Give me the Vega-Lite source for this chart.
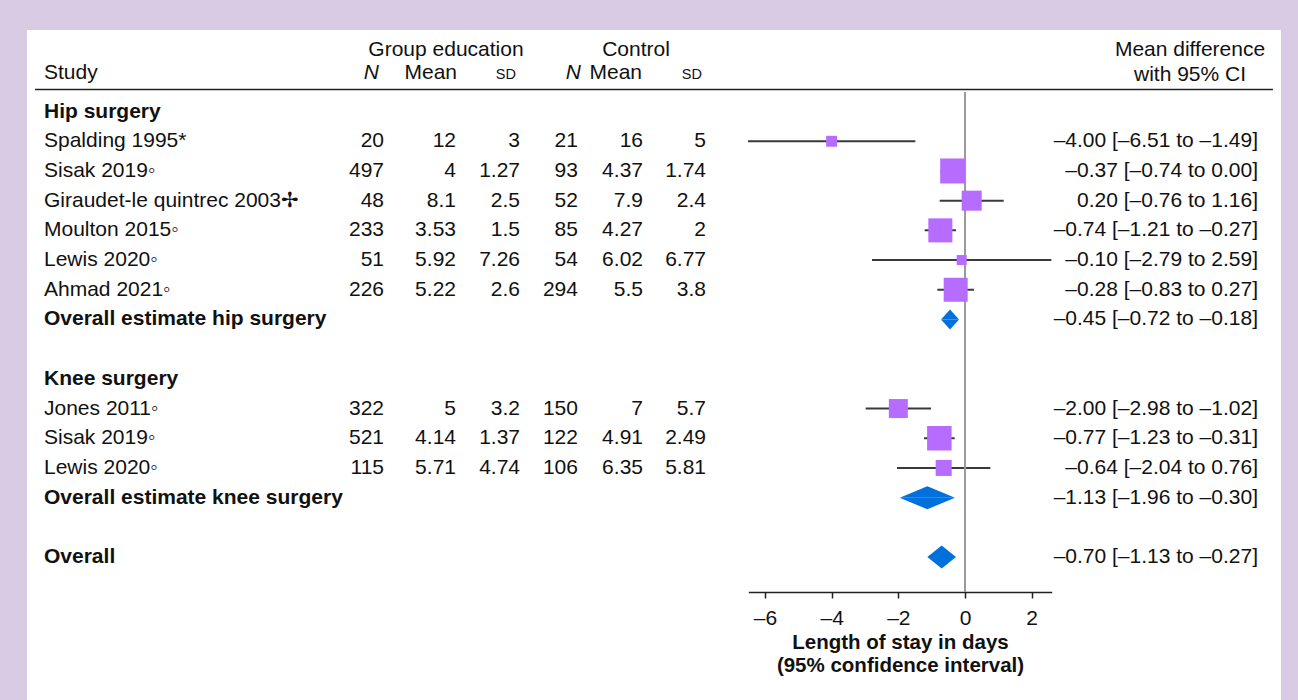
{
  "$schema": "https://vega.github.io/schema/vega-lite/v6.json",
  "width": 1254,
  "height": 670,
  "autosize": {"type": "none"},
  "padding": {"left": 27, "top": 30, "right": 17, "bottom": 0},
  "background": "#d9cbe3",
  "config": {
    "view": {"fill": "#ffffff", "stroke": null},
    "text": {"font": "Liberation Sans", "fontSize": 21, "color": "#111111", "baseline": "middle"}
  },
  "datasets": {
    "studies": [
      {"row": 1, "label": "Spalding 1995*", "n1": 20, "m1": 12, "sd1": 3, "n2": 21, "m2": 16, "sd2": 5, "est": -4.0, "lower": -6.51, "upper": -1.49, "weight": 5, "ci": "–4.00 [–6.51 to –1.49]"},
      {"row": 2, "label": "Sisak 2019◦", "n1": 497, "m1": 4, "sd1": 1.27, "n2": 93, "m2": 4.37, "sd2": 1.74, "est": -0.37, "lower": -0.74, "upper": 0.0, "weight": 26, "ci": "–0.37 [–0.74 to 0.00]"},
      {"row": 3, "label": "Giraudet-le quintrec 2003✢", "n1": 48, "m1": 8.1, "sd1": 2.5, "n2": 52, "m2": 7.9, "sd2": 2.4, "est": 0.2, "lower": -0.76, "upper": 1.16, "weight": 16.7, "ci": "0.20 [–0.76 to 1.16]"},
      {"row": 4, "label": "Moulton 2015◦", "n1": 233, "m1": 3.53, "sd1": 1.5, "n2": 85, "m2": 4.27, "sd2": 2, "est": -0.74, "lower": -1.21, "upper": -0.27, "weight": 24, "ci": "–0.74 [–1.21 to –0.27]"},
      {"row": 5, "label": "Lewis 2020◦", "n1": 51, "m1": 5.92, "sd1": 7.26, "n2": 54, "m2": 6.02, "sd2": 6.77, "est": -0.1, "lower": -2.79, "upper": 2.59, "weight": 4.2, "ci": "–0.10 [–2.79 to 2.59]"},
      {"row": 6, "label": "Ahmad 2021◦", "n1": 226, "m1": 5.22, "sd1": 2.6, "n2": 294, "m2": 5.5, "sd2": 3.8, "est": -0.28, "lower": -0.83, "upper": 0.27, "weight": 24, "ci": "–0.28 [–0.83 to 0.27]"},
      {"row": 10, "label": "Jones 2011◦", "n1": 322, "m1": 5, "sd1": 3.2, "n2": 150, "m2": 7, "sd2": 5.7, "est": -2.0, "lower": -2.98, "upper": -1.02, "weight": 15, "ci": "–2.00 [–2.98 to –1.02]"},
      {"row": 11, "label": "Sisak 2019◦", "n1": 521, "m1": 4.14, "sd1": 1.37, "n2": 122, "m2": 4.91, "sd2": 2.49, "est": -0.77, "lower": -1.23, "upper": -0.31, "weight": 25, "ci": "–0.77 [–1.23 to –0.31]"},
      {"row": 12, "label": "Lewis 2020◦", "n1": 115, "m1": 5.71, "sd1": 4.74, "n2": 106, "m2": 6.35, "sd2": 5.81, "est": -0.64, "lower": -2.04, "upper": 0.76, "weight": 10.7, "ci": "–0.64 [–2.04 to 0.76]"}
    ],
    "sections": [
      {"row": 0, "label": "Hip surgery"},
      {"row": 9, "label": "Knee surgery"}
    ],
    "summaries": [
      {"row": 7, "label": "Overall estimate hip surgery", "est": -0.45, "lower": -0.72, "upper": -0.18, "ci": "–0.45 [–0.72 to –0.18]"},
      {"row": 13, "label": "Overall estimate knee surgery", "est": -1.13, "lower": -1.96, "upper": -0.3, "ci": "–1.13 [–1.96 to –0.30]"},
      {"row": 15, "label": "Overall", "est": -0.7, "lower": -1.13, "upper": -0.27, "ci": "–0.70 [–1.13 to –0.27]"}
    ]
  },
  "layer": [
    {
      "layer": [
        {
          "data": {"values": [{"t": "Group education"}]},
          "mark": {"type": "text", "align": "center"},
          "encoding": {
            "x": {"datum": -15.567, "type": "quantitative", "axis": null, "scale": {"domain": [-28.134, 9.478], "nice": false, "zero": false}},
            "y": {"datum": -2.067, "type": "quantitative", "axis": null, "scale": {"domain": [-2.7474, 19.815], "reverse": true, "nice": false, "zero": false}},
            "text": {"field": "t", "type": "nominal"}
          }
        },
        {
          "data": {"values": [{"t": "Control"}]},
          "mark": {"type": "text", "align": "center"},
          "encoding": {
            "x": {"datum": -9.868, "type": "quantitative", "axis": null},
            "y": {"datum": -2.067, "type": "quantitative", "axis": null},
            "text": {"field": "t", "type": "nominal"}
          }
        },
        {
          "data": {"values": [{"t": "Mean difference"}]},
          "mark": {"type": "text", "align": "center"},
          "encoding": {
            "x": {"datum": 6.749, "type": "quantitative", "axis": null},
            "y": {"datum": -2.067, "type": "quantitative", "axis": null},
            "text": {"field": "t", "type": "nominal"}
          }
        },
        {
          "data": {"values": [{"t": "with 95% CI"}]},
          "mark": {"type": "text", "align": "center"},
          "encoding": {
            "x": {"datum": 6.749, "type": "quantitative", "axis": null},
            "y": {"datum": -1.226, "type": "quantitative", "axis": null},
            "text": {"field": "t", "type": "nominal"}
          }
        },
        {
          "data": {"values": [{"t": "Study"}]},
          "mark": {"type": "text", "align": "left"},
          "encoding": {
            "x": {"datum": -27.624, "type": "quantitative", "axis": null},
            "y": {"datum": -1.293, "type": "quantitative", "axis": null},
            "text": {"field": "t", "type": "nominal"}
          }
        },
        {
          "data": {"values": [{"t": "N"}]},
          "mark": {"type": "text", "align": "right", "fontStyle": "italic"},
          "encoding": {
            "x": {"datum": -17.576, "type": "quantitative", "axis": null},
            "y": {"datum": -1.293, "type": "quantitative", "axis": null},
            "text": {"field": "t", "type": "nominal"}
          }
        },
        {
          "data": {"values": [{"t": "Mean"}]},
          "mark": {"type": "text", "align": "right"},
          "encoding": {
            "x": {"datum": -15.237, "type": "quantitative", "axis": null},
            "y": {"datum": -1.293, "type": "quantitative", "axis": null},
            "text": {"field": "t", "type": "nominal"}
          }
        },
        {
          "data": {"values": [{"t": "SD"}]},
          "mark": {"type": "text", "align": "right", "fontSize": 14.5, "dy": 2},
          "encoding": {
            "x": {"datum": -13.467, "type": "quantitative", "axis": null},
            "y": {"datum": -1.293, "type": "quantitative", "axis": null},
            "text": {"field": "t", "type": "nominal"}
          }
        },
        {
          "data": {"values": [{"t": "N"}]},
          "mark": {"type": "text", "align": "right", "fontStyle": "italic"},
          "encoding": {
            "x": {"datum": -11.518, "type": "quantitative", "axis": null},
            "y": {"datum": -1.293, "type": "quantitative", "axis": null},
            "text": {"field": "t", "type": "nominal"}
          }
        },
        {
          "data": {"values": [{"t": "Mean"}]},
          "mark": {"type": "text", "align": "right"},
          "encoding": {
            "x": {"datum": -9.688, "type": "quantitative", "axis": null},
            "y": {"datum": -1.293, "type": "quantitative", "axis": null},
            "text": {"field": "t", "type": "nominal"}
          }
        },
        {
          "data": {"values": [{"t": "SD"}]},
          "mark": {"type": "text", "align": "right", "fontSize": 14.5, "dy": 2},
          "encoding": {
            "x": {"datum": -7.888, "type": "quantitative", "axis": null},
            "y": {"datum": -1.293, "type": "quantitative", "axis": null},
            "text": {"field": "t", "type": "nominal"}
          }
        },
        {
          "data": {"values": [{}]},
          "mark": {"type": "rule", "color": "#222222", "strokeWidth": 1.6},
          "encoding": {
            "x": {"datum": -27.894, "type": "quantitative", "axis": null},
            "x2": {"datum": 9.238},
            "y": {"datum": -0.744, "type": "quantitative", "axis": null}
          }
        },
        {
          "data": {"name": "studies"},
          "mark": {"type": "text", "align": "left"},
          "encoding": {
            "x": {"datum": -27.624, "type": "quantitative", "axis": null},
            "y": {"field": "row", "type": "quantitative", "axis": null},
            "text": {"field": "label", "type": "nominal"}
          }
        },
        {
          "data": {"name": "sections"},
          "mark": {"type": "text", "align": "left", "fontWeight": "bold"},
          "encoding": {
            "x": {"datum": -27.624, "type": "quantitative", "axis": null},
            "y": {"field": "row", "type": "quantitative", "axis": null},
            "text": {"field": "label", "type": "nominal"}
          }
        },
        {
          "data": {"name": "summaries"},
          "mark": {"type": "text", "align": "left", "fontWeight": "bold"},
          "encoding": {
            "x": {"datum": -27.624, "type": "quantitative", "axis": null},
            "y": {"field": "row", "type": "quantitative", "axis": null},
            "text": {"field": "label", "type": "nominal"}
          }
        },
        {
          "data": {"name": "studies"},
          "mark": {"type": "text", "align": "right"},
          "encoding": {
            "x": {"datum": -17.426, "type": "quantitative", "axis": null},
            "y": {"field": "row", "type": "quantitative", "axis": null},
            "text": {"field": "n1", "type": "nominal"}
          }
        },
        {
          "data": {"name": "studies"},
          "mark": {"type": "text", "align": "right"},
          "encoding": {
            "x": {"datum": -15.267, "type": "quantitative", "axis": null},
            "y": {"field": "row", "type": "quantitative", "axis": null},
            "text": {"field": "m1", "type": "nominal"}
          }
        },
        {
          "data": {"name": "studies"},
          "mark": {"type": "text", "align": "right"},
          "encoding": {
            "x": {"datum": -13.347, "type": "quantitative", "axis": null},
            "y": {"field": "row", "type": "quantitative", "axis": null},
            "text": {"field": "sd1", "type": "nominal"}
          }
        },
        {
          "data": {"name": "studies"},
          "mark": {"type": "text", "align": "right"},
          "encoding": {
            "x": {"datum": -11.608, "type": "quantitative", "axis": null},
            "y": {"field": "row", "type": "quantitative", "axis": null},
            "text": {"field": "n2", "type": "nominal"}
          }
        },
        {
          "data": {"name": "studies"},
          "mark": {"type": "text", "align": "right"},
          "encoding": {
            "x": {"datum": -9.658, "type": "quantitative", "axis": null},
            "y": {"field": "row", "type": "quantitative", "axis": null},
            "text": {"field": "m2", "type": "nominal"}
          }
        },
        {
          "data": {"name": "studies"},
          "mark": {"type": "text", "align": "right"},
          "encoding": {
            "x": {"datum": -7.768, "type": "quantitative", "axis": null},
            "y": {"field": "row", "type": "quantitative", "axis": null},
            "text": {"field": "sd2", "type": "nominal"}
          }
        },
        {
          "data": {"name": "studies"},
          "mark": {"type": "text", "align": "right"},
          "encoding": {
            "x": {"datum": 8.788, "type": "quantitative", "axis": null},
            "y": {"field": "row", "type": "quantitative", "axis": null},
            "text": {"field": "ci", "type": "nominal"}
          }
        },
        {
          "data": {"name": "summaries"},
          "mark": {"type": "text", "align": "right"},
          "encoding": {
            "x": {"datum": 8.788, "type": "quantitative", "axis": null},
            "y": {"field": "row", "type": "quantitative", "axis": null},
            "text": {"field": "ci", "type": "nominal"}
          }
        }
      ]
    },
    {
      "layer": [
        {
          "data": {"name": "studies"},
          "mark": {"type": "rule", "color": "#3a3a3a", "strokeWidth": 2},
          "encoding": {
            "x": {
              "field": "lower",
              "type": "quantitative",
              "scale": {"domain": [-6.5, 2.6], "range": [721.3, 1024.7], "nice": false, "zero": false},
              "axis": {
                "values": [-6, -4, -2, 0, 2],
                "format": "~g",
                "orient": "bottom",
                "offset": -108,
                "grid": false,
                "domainColor": "#222222",
                "domainWidth": 1.5,
                "tickColor": "#222222",
                "tickWidth": 1.5,
                "tickSize": 6,
                "labelFont": "Liberation Sans",
                "labelFontSize": 21,
                "labelColor": "#111111",
                "labelPadding": 9,
                "labelExpr": "replace(datum.label, '−', '–')",
                "title": ["Length of stay in days", "(95% confidence interval)"],
                "titleFont": "Liberation Sans",
                "titleFontSize": 20.5,
                "titleFontWeight": "bold",
                "titleColor": "#111111",
                "titlePadding": 4,
                "titleLineHeight": 23
              }
            },
            "x2": {"field": "upper"},
            "y": {"field": "row", "type": "quantitative", "axis": null}
          }
        },
        {
          "data": {"values": [{}]},
          "mark": {"type": "rule", "color": "#9a9a9a", "strokeWidth": 2},
          "encoding": {
            "x": {"datum": 0, "type": "quantitative"},
            "y": {"datum": -0.6595, "type": "quantitative", "axis": null},
            "y2": {"datum": 16.178}
          }
        },
        {
          "data": {"name": "studies"},
          "mark": {"type": "point", "shape": "square", "filled": true, "color": "#b66dff", "opacity": 1, "strokeWidth": 0},
          "encoding": {
            "x": {"field": "est", "type": "quantitative"},
            "y": {"field": "row", "type": "quantitative", "axis": null},
            "size": {"field": "weight", "type": "quantitative", "scale": {"domain": [0, 26], "range": [0, 625]}, "legend": null}
          }
        },
        {
          "data": {"name": "summaries"},
          "transform": [
            {"filter": "datum.row == 7"},
            {"fold": ["lower", "est", "upper"], "as": ["key", "value"]},
            {"window": [{"op": "count", "as": "nb"}], "sort": [{"field": "value", "order": "ascending"}], "frame": [-1, 1]}
          ],
          "mark": {"type": "area", "orient": "vertical", "color": "#0070dd", "opacity": 1},
          "encoding": {
            "x": {"field": "value", "type": "quantitative"},
            "y": {"datum": 7, "type": "quantitative", "axis": null},
            "y2": {"datum": 7},
            "yOffset": {"field": "nb", "type": "quantitative", "scale": {"domain": [2, 3], "range": [0, -10]}}
          }
        },
        {
          "data": {"name": "summaries"},
          "transform": [
            {"filter": "datum.row == 7"},
            {"fold": ["lower", "est", "upper"], "as": ["key", "value"]},
            {"window": [{"op": "count", "as": "nb"}], "sort": [{"field": "value", "order": "ascending"}], "frame": [-1, 1]}
          ],
          "mark": {"type": "area", "orient": "vertical", "color": "#0070dd", "opacity": 1},
          "encoding": {
            "x": {"field": "value", "type": "quantitative"},
            "y": {"datum": 7, "type": "quantitative", "axis": null},
            "y2": {"datum": 7},
            "yOffset": {"field": "nb", "type": "quantitative", "scale": {"domain": [2, 3], "range": [0, 10]}}
          }
        },
        {
          "data": {"name": "summaries"},
          "transform": [
            {"filter": "datum.row == 13"},
            {"fold": ["lower", "est", "upper"], "as": ["key", "value"]},
            {"window": [{"op": "count", "as": "nb"}], "sort": [{"field": "value", "order": "ascending"}], "frame": [-1, 1]}
          ],
          "mark": {"type": "area", "orient": "vertical", "color": "#0070dd", "opacity": 1},
          "encoding": {
            "x": {"field": "value", "type": "quantitative"},
            "y": {"datum": 13, "type": "quantitative", "axis": null},
            "y2": {"datum": 13},
            "yOffset": {"field": "nb", "type": "quantitative", "scale": {"domain": [2, 3], "range": [0, -11.5]}}
          }
        },
        {
          "data": {"name": "summaries"},
          "transform": [
            {"filter": "datum.row == 13"},
            {"fold": ["lower", "est", "upper"], "as": ["key", "value"]},
            {"window": [{"op": "count", "as": "nb"}], "sort": [{"field": "value", "order": "ascending"}], "frame": [-1, 1]}
          ],
          "mark": {"type": "area", "orient": "vertical", "color": "#0070dd", "opacity": 1},
          "encoding": {
            "x": {"field": "value", "type": "quantitative"},
            "y": {"datum": 13, "type": "quantitative", "axis": null},
            "y2": {"datum": 13},
            "yOffset": {"field": "nb", "type": "quantitative", "scale": {"domain": [2, 3], "range": [0, 11.5]}}
          }
        },
        {
          "data": {"name": "summaries"},
          "transform": [
            {"filter": "datum.row == 15"},
            {"fold": ["lower", "est", "upper"], "as": ["key", "value"]},
            {"window": [{"op": "count", "as": "nb"}], "sort": [{"field": "value", "order": "ascending"}], "frame": [-1, 1]}
          ],
          "mark": {"type": "area", "orient": "vertical", "color": "#0070dd", "opacity": 1},
          "encoding": {
            "x": {"field": "value", "type": "quantitative"},
            "y": {"datum": 15, "type": "quantitative", "axis": null},
            "y2": {"datum": 15},
            "yOffset": {"field": "nb", "type": "quantitative", "scale": {"domain": [2, 3], "range": [0, -11.5]}}
          }
        },
        {
          "data": {"name": "summaries"},
          "transform": [
            {"filter": "datum.row == 15"},
            {"fold": ["lower", "est", "upper"], "as": ["key", "value"]},
            {"window": [{"op": "count", "as": "nb"}], "sort": [{"field": "value", "order": "ascending"}], "frame": [-1, 1]}
          ],
          "mark": {"type": "area", "orient": "vertical", "color": "#0070dd", "opacity": 1},
          "encoding": {
            "x": {"field": "value", "type": "quantitative"},
            "y": {"datum": 15, "type": "quantitative", "axis": null},
            "y2": {"datum": 15},
            "yOffset": {"field": "nb", "type": "quantitative", "scale": {"domain": [2, 3], "range": [0, 11.5]}}
          }
        }
      ],
      "resolve": {"scale": {"yOffset": "independent"}}
    }
  ],
  "resolve": {"scale": {"x": "independent"}, "axis": {"x": "independent"}}
}
